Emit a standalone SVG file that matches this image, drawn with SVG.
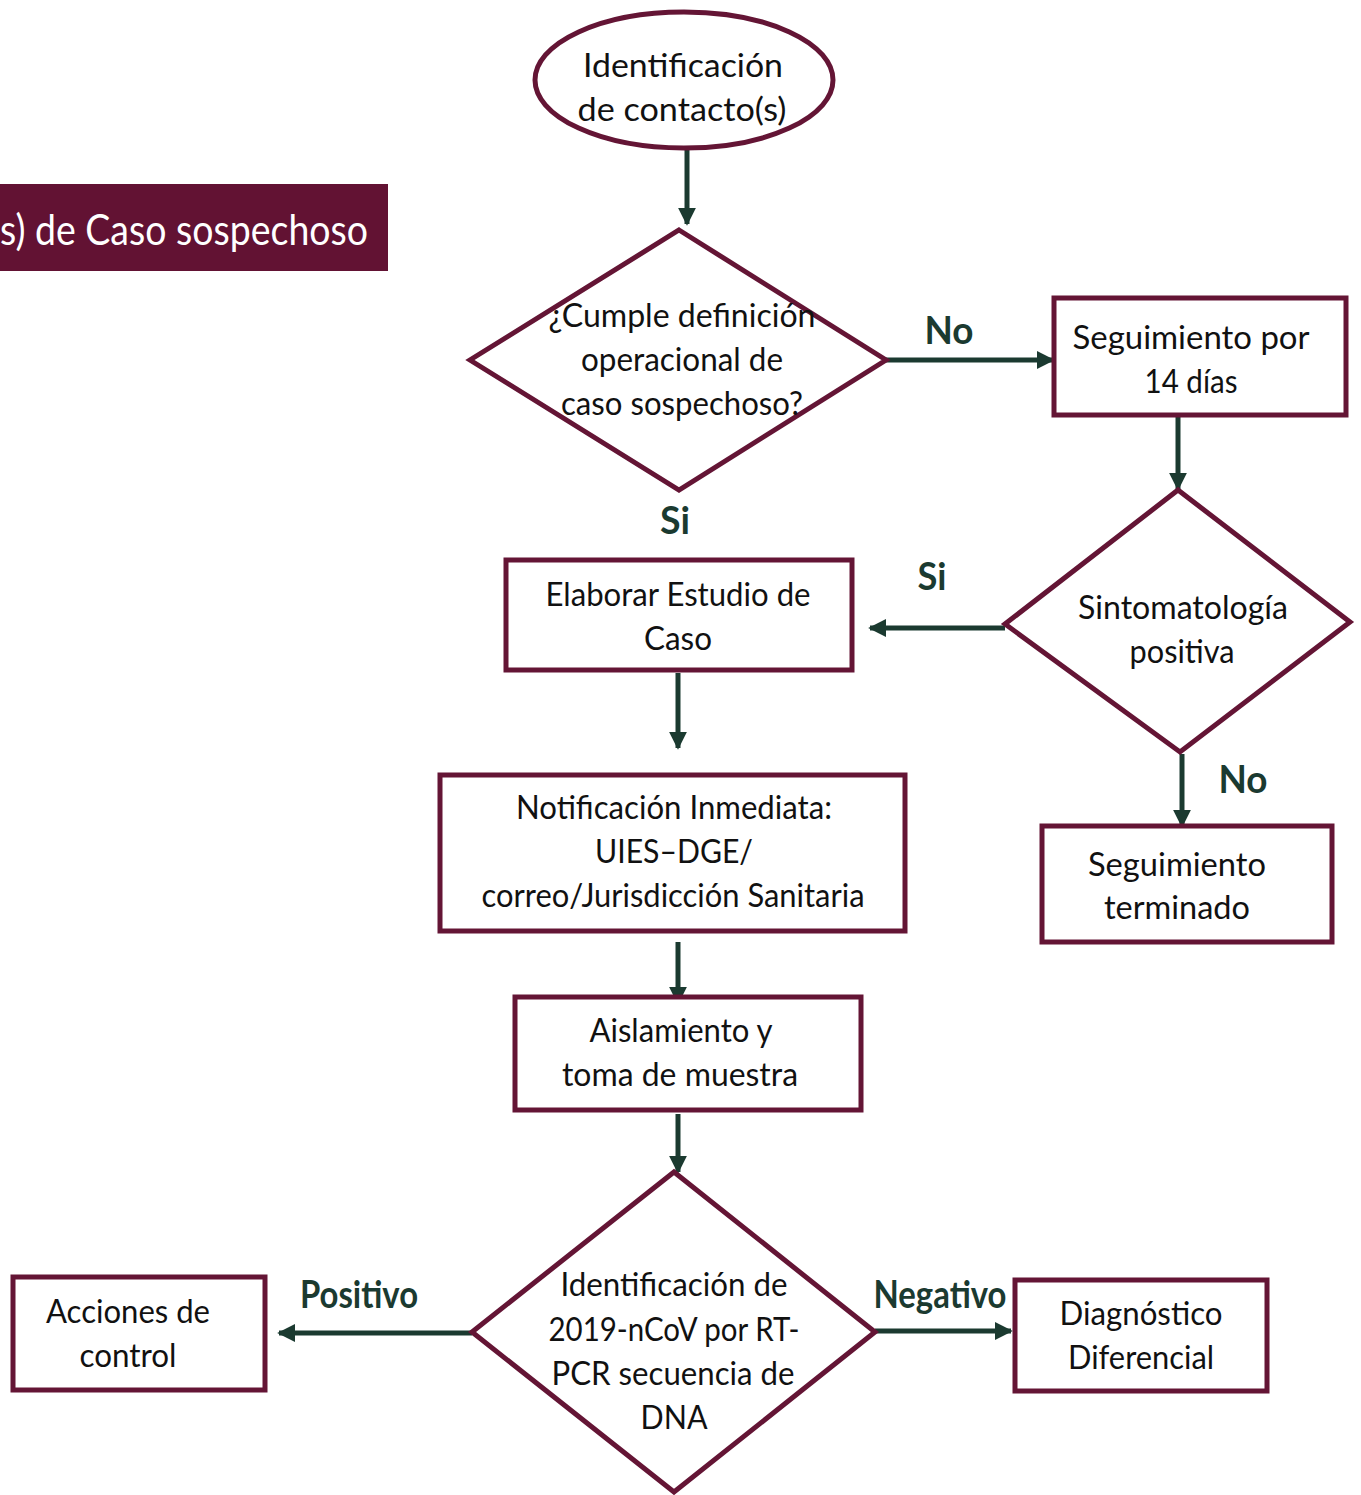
<svg xmlns="http://www.w3.org/2000/svg" width="1361" height="1495" viewBox="0 0 1361 1495">
<defs>
<style>
.n{fill:#fff;stroke:#641535;stroke-width:5}
.t{font-family:Lato,"Open Sans",sans-serif;font-size:32px;fill:#111;text-anchor:middle}
.l{font-family:Lato,"Open Sans",sans-serif;font-size:38px;font-weight:bold;fill:#1b3a30;text-anchor:middle}
.c{stroke:#1b3a30;stroke-width:5;fill:none;marker-end:url(#ah)}
</style>
<marker id="ah" viewBox="0 0 10 10" refX="9" refY="5" markerWidth="3.6" markerHeight="3.6" orient="auto" markerUnits="strokeWidth">
<path d="M0,0 L10,5 L0,10 z" fill="#1b3a30"/>
</marker>
</defs>
<rect width="1361" height="1495" fill="#fff"/>
<g id="banner">
<rect x="0" y="184" width="388" height="87" fill="#621233"/>
<text x="0" y="245" font-family="Lato,'Open Sans',sans-serif" font-size="42" fill="#fff" textLength="368" lengthAdjust="spacingAndGlyphs">s) de Caso sospechoso</text>
</g>
<g id="connectors">
<line class="c" x1="687" y1="150" x2="687" y2="224"/>
<line class="c" x1="886" y1="360" x2="1053" y2="360"/>
<line class="c" x1="1178" y1="416" x2="1178" y2="489"/>
<line class="c" x1="1005" y1="628" x2="870" y2="628"/>
<line class="c" x1="678" y1="673" x2="678" y2="748"/>
<line class="c" x1="678" y1="942" x2="678" y2="1003"/>
<line class="c" x1="678" y1="1114" x2="678" y2="1172"/>
<line class="c" x1="472" y1="1333" x2="279" y2="1333"/>
<line class="c" x1="875" y1="1331" x2="1011" y2="1331"/>
<line class="c" x1="1182" y1="754" x2="1182" y2="826"/>
<text class="l" x="949" y="344" textLength="49" lengthAdjust="spacingAndGlyphs">No</text>
<text class="l" x="675" y="534" textLength="30" lengthAdjust="spacingAndGlyphs">Si</text>
<text class="l" x="932" y="590" textLength="29" lengthAdjust="spacingAndGlyphs">Si</text>
<text class="l" x="1243" y="793" textLength="49" lengthAdjust="spacingAndGlyphs">No</text>
<text class="l" x="359" y="1308" textLength="118" lengthAdjust="spacingAndGlyphs">Positivo</text>
<text class="l" x="940" y="1308" textLength="133" lengthAdjust="spacingAndGlyphs">Negativo</text>
</g>
<g id="n1">
<ellipse class="n" cx="684" cy="80" rx="149" ry="68"/>
<text class="t" x="683" y="77" textLength="200" lengthAdjust="spacingAndGlyphs">Identificación</text>
<text class="t" x="682" y="121" textLength="209" lengthAdjust="spacingAndGlyphs">de contacto(s)</text>
</g>
<g id="n2">
<polygon class="n" points="679,230 886,360 679,490 470,360"/>
<text class="t" x="682" y="327" textLength="267" lengthAdjust="spacingAndGlyphs">¿Cumple definición</text>
<text class="t" x="682" y="371" textLength="202" lengthAdjust="spacingAndGlyphs">operacional de</text>
<text class="t" x="682" y="415" textLength="242" lengthAdjust="spacingAndGlyphs">caso sospechoso?</text>
</g>
<g id="n3">
<rect class="n" x="1054" y="298" width="292" height="117"/>
<text class="t" x="1191" y="349" textLength="237" lengthAdjust="spacingAndGlyphs">Seguimiento  por</text>
<text class="t" x="1191" y="393" textLength="93" lengthAdjust="spacingAndGlyphs">14 días</text>
</g>
<g id="n4">
<polygon class="n" points="1178,490 1350,622 1180,752 1005,624"/>
<text class="t" x="1183" y="619" textLength="210" lengthAdjust="spacingAndGlyphs">Sintomatología</text>
<text class="t" x="1182" y="663" textLength="105" lengthAdjust="spacingAndGlyphs">positiva</text>
</g>
<g id="n5">
<rect class="n" x="506" y="560" width="346" height="110"/>
<text class="t" x="678" y="606" textLength="265" lengthAdjust="spacingAndGlyphs">Elaborar Estudio de</text>
<text class="t" x="678" y="650" textLength="68" lengthAdjust="spacingAndGlyphs">Caso</text>
</g>
<g id="n6">
<rect class="n" x="440" y="775" width="465" height="156"/>
<text class="t" x="674" y="819" textLength="316" lengthAdjust="spacingAndGlyphs">Notificación Inmediata:</text>
<text class="t" x="674" y="863" textLength="158" lengthAdjust="spacingAndGlyphs">UIES–DGE/</text>
<text class="t" x="673" y="907" textLength="383" lengthAdjust="spacingAndGlyphs">correo/Jurisdicción Sanitaria</text>
</g>
<g id="n7">
<rect class="n" x="1042" y="826" width="290" height="116"/>
<text class="t" x="1177" y="876" textLength="178" lengthAdjust="spacingAndGlyphs">Seguimiento</text>
<text class="t" x="1177" y="919" textLength="146" lengthAdjust="spacingAndGlyphs">terminado</text>
</g>
<g id="n8">
<rect class="n" x="515" y="997" width="346" height="113"/>
<text class="t" x="681" y="1042" textLength="183" lengthAdjust="spacingAndGlyphs">Aislamiento y</text>
<text class="t" x="680" y="1086" textLength="236" lengthAdjust="spacingAndGlyphs">toma de muestra</text>
</g>
<g id="n9">
<polygon class="n" points="674,1172 875,1332 674,1492 472,1332"/>
<text class="t" x="674" y="1296" textLength="227" lengthAdjust="spacingAndGlyphs">Identificación de</text>
<text class="t" x="674" y="1341" textLength="251" lengthAdjust="spacingAndGlyphs">2019-nCoV por RT-</text>
<text class="t" x="673" y="1385" textLength="243" lengthAdjust="spacingAndGlyphs">PCR secuencia de</text>
<text class="t" x="674" y="1429" textLength="67" lengthAdjust="spacingAndGlyphs">DNA</text>
</g>
<g id="n10">
<rect class="n" x="13" y="1277" width="252" height="113"/>
<text class="t" x="128" y="1323" textLength="164" lengthAdjust="spacingAndGlyphs">Acciones de</text>
<text class="t" x="128" y="1367" textLength="97" lengthAdjust="spacingAndGlyphs">control</text>
</g>
<g id="n11">
<rect class="n" x="1015" y="1280" width="252" height="111"/>
<text class="t" x="1141" y="1325" textLength="163" lengthAdjust="spacingAndGlyphs">Diagnóstico</text>
<text class="t" x="1141" y="1369" textLength="146" lengthAdjust="spacingAndGlyphs">Diferencial</text>
</g>
</svg>
